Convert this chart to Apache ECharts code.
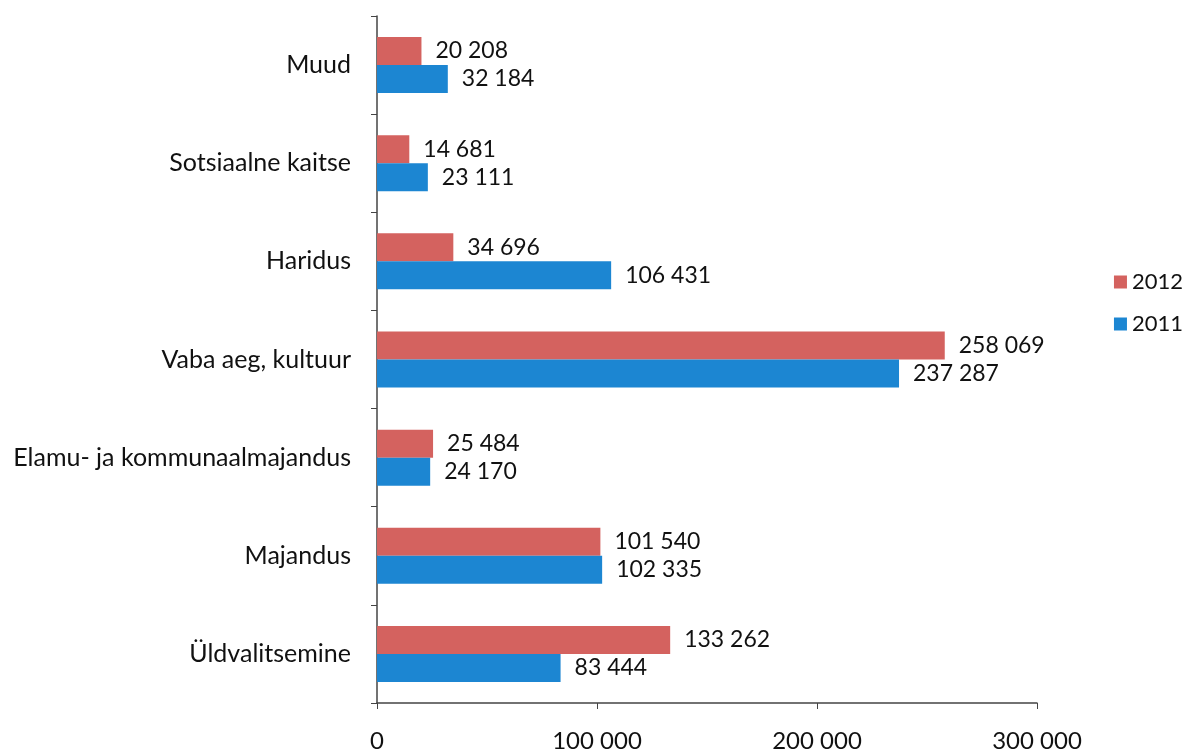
<!DOCTYPE html>
<html>
<head>
<meta charset="utf-8">
<script src="https://cdn.jsdelivr.net/npm/echarts@6/dist/echarts.min.js"></script>
<style>
  html, body { margin: 0; padding: 0; background: #fff; }
  #chart { width: 1192px; height: 753px; }
</style>
</head>
<body>
<div id="chart"></div>
<script>
// categories, bottom to top as on the axis
const categories = [
  'Üldvalitsemine',
  'Majandus',
  'Elamu- ja kommunaalmajandus',
  'Vaba aeg, kultuur',
  'Haridus',
  'Sotsiaalne kaitse',
  'Muud'
]
const values2012 = [133262, 101540, 25484, 258069, 34696, 14681, 20208]
const values2011 = [83444, 102335, 24170, 237287, 106431, 23111, 32184]
const xTicks = [0, 100000, 200000, 300000]

const FONT = 'Lato'

// 100000 -> "100 000"
function fmt(v) {
  return String(v).replace(/\B(?=(\d{3})+(?!\d))/g, ' ')
}

const chart = echarts.init(document.getElementById('chart'))

function barSeries(name, data, color) {
  return {
    name: name,
    type: 'bar',
    data: data,
    barWidth: 28,
    barGap: '0%',
    itemStyle: { color: color },
    label: {
      show: true,
      position: 'right',
      distance: 14,
      color: '#111',
      fontFamily: FONT,
      fontSize: 23,
      formatter: p => fmt(p.value)
    },
    animation: false
  }
}

chart.setOption({
  textStyle: { fontFamily: FONT },
  grid: {
    left: 377,
    right: 155,
    top: 16,
    bottom: 45
  },
  legend: {
    data: ['2012', '2011'],
    orient: 'vertical',
    right: 4,
    top: 266,
    itemWidth: 13,
    itemHeight: 13,
    itemGap: 20,
    icon: 'rect',
    textStyle: { fontFamily: FONT, fontSize: 22, color: '#111' }
  },
  xAxis: {
    type: 'value',
    min: xTicks[0],
    max: xTicks[xTicks.length - 1],
    interval: 100000,
    axisLine: { show: true, lineStyle: { color: '#444', width: 1.5 } },
    axisTick: { show: true, length: 6, lineStyle: { color: '#444' } },
    splitLine: { show: false },
    axisLabel: {
      margin: 26,
      color: '#111',
      fontFamily: FONT,
      fontSize: 24,
      formatter: v => fmt(v)
    }
  },
  yAxis: {
    type: 'category',
    data: categories,
    axisLine: { show: true, lineStyle: { color: '#444', width: 1.5 } },
    axisTick: { show: true, length: 6, lineStyle: { color: '#444' } },
    axisLabel: {
      margin: 26,
      color: '#111',
      fontFamily: FONT,
      fontSize: 25
    }
  },
  series: [
    barSeries('2012', values2012, '#d4625f'),
    barSeries('2011', values2011, '#1c86d2')
  ]
})
</script>
</body>
</html>
